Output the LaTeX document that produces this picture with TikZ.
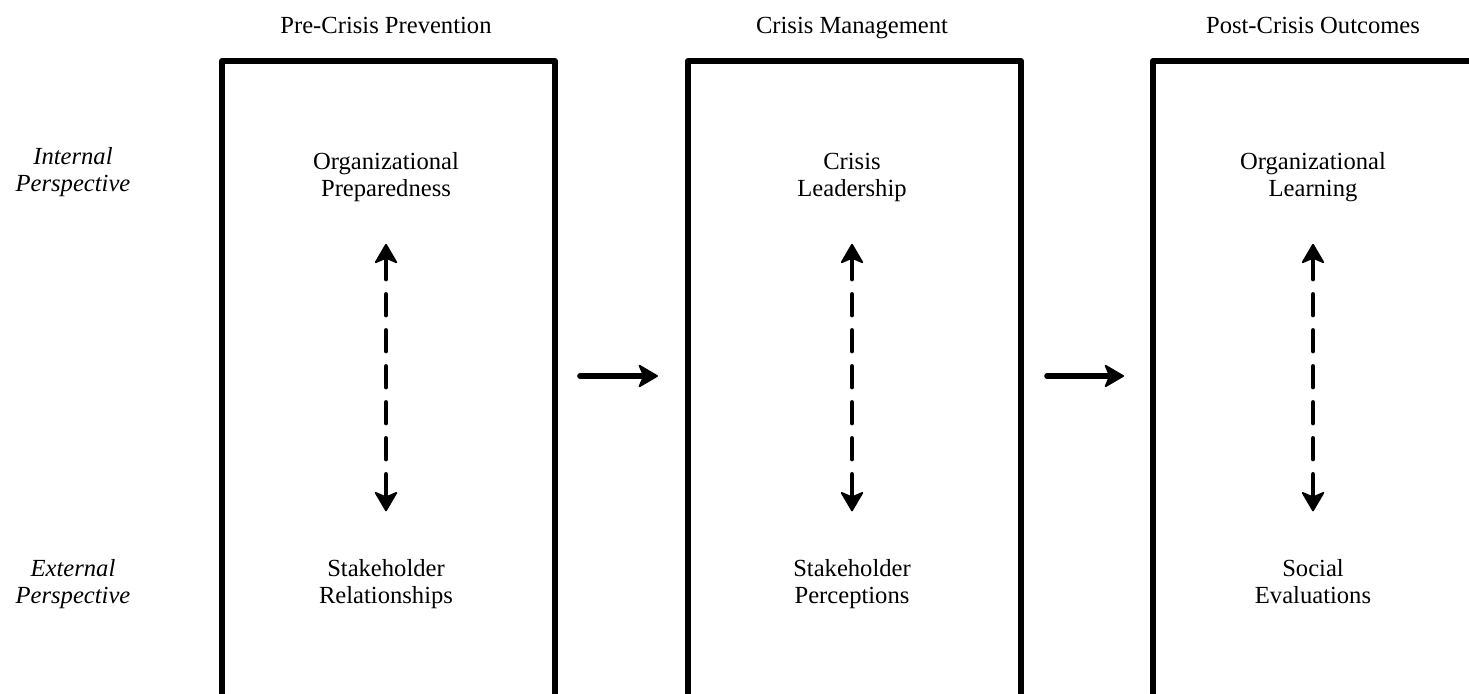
\documentclass[tikz,border=0pt]{standalone}
\usepackage{fontspec}
\setmainfont{Liberation Serif}
\usetikzlibrary{arrows.meta}

\begin{document}
\begin{tikzpicture}[line cap=round,line join=round,x=0.02cm,y=-0.02cm,
  stagebox/.style={draw,line width=3.4pt,line cap=rect,minimum width=6.66cm,minimum height=13.4cm,anchor=north west,inner sep=0pt},
  phase/.style={font=\fontsize{14}{15.5}\selectfont,anchor=base},
  factor/.style={font=\fontsize{14}{15.5}\selectfont,align=center,anchor=north,inner sep=0pt},
  persp/.style={factor,font=\fontsize{14}{15.5}\selectfont\itshape},
  tiphead/.tip={Stealth[length=12pt,width=14pt,inset=3pt,round,fill=black,line width=1pt]},
  link/.style={line width=2.5pt,dash pattern=on 0.42cm off 0.3cm,tiphead-tiphead,shorten <=22pt,shorten >=26pt},
  flow/.style={line width=3.2pt,-tiphead}]
\useasboundingbox (0,0) rectangle (1469,693);
\clip (0,0) rectangle (1469,693);
%stage boxes (bottoms and right side cut off)
\node[stagebox] (b1) at (219,58) {};
\node[stagebox] (b2) at (685,58) {};
\node[stagebox] (b3) at (1150,58) {};
%headings
\node[phase] (h1) at (386,33) {Pre-Crisis Prevention};
\node[phase] (h2) at (852,33) {Crisis Management};
\node[phase] (h3) at (1313,33) {Post-Crisis Outcomes};
%perspectives
\node[persp] (int) at (73,145) {\strut Internal\\\strut Perspective};
\node[persp] (ext) at (73,557) {\strut External\\\strut Perspective};
%factors
\node[factor] (prep) at (386,150) {\strut Organizational\\\strut Preparedness};
\node[factor] (rel) at (386,557) {\strut Stakeholder\\\strut Relationships};
\node[factor] (lead) at (852,150) {\strut Crisis\\\strut Leadership};
\node[factor] (perc) at (852,557) {\strut Stakeholder\\\strut Perceptions};
\node[factor] (learn) at (1313,150) {\strut Organizational\\\strut Learning};
\node[factor] (soc) at (1313,557) {\strut Social\\\strut Evaluations};
%internal <-> external
\draw[link] (prep) -- (rel);
\draw[link] (lead) -- (perc);
\draw[link] (learn) -- (soc);
%phase arrows
\coordinate (a1) at (580,376);
\coordinate (a2) at (658,376);
\coordinate (a3) at (1047,376);
\coordinate (a4) at (1124,376);
\draw[flow] (a1) -- (a2);
\draw[flow] (a3) -- (a4);
\end{tikzpicture}
\end{document}
